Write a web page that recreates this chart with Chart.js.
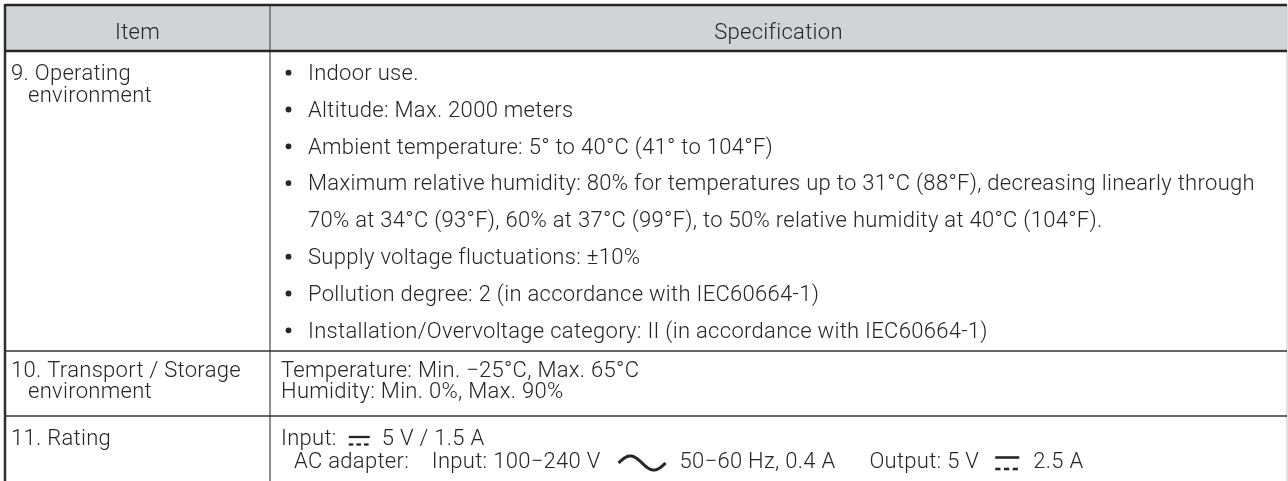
<!DOCTYPE html>
<html>
<head>
<meta charset="utf-8">
<script src="https://cdn.jsdelivr.net/npm/chart.js@4"></script>
<style>
  body { margin: 0; background: #fff; }
  canvas { display: block; }
</style>
</head>
<body>
<canvas id="chart-table" width="1288" height="481"></canvas>
<script>
// --- table contents ---
const headerLabels = ["Item", "Specification"];
const itemNames = [
  ["9. Operating", "environment"],
  ["10. Transport / Storage", "environment"],
  ["11. Rating"],
];
const operatingBullets = [
  ["Indoor use."],
  ["Altitude: Max. 2000 meters"],
  ["Ambient temperature: 5° to 40°C (41° to 104°F)"],
  ["Maximum relative humidity: 80% for temperatures up to 31°C (88°F), decreasing linearly through",
   "70% at 34°C (93°F), 60% at 37°C (99°F), to 50% relative humidity at 40°C (104°F)."],
  ["Supply voltage fluctuations: ±10%"],
  ["Pollution degree: 2 (in accordance with IEC60664-1)"],
  ["Installation/Overvoltage category: II (in accordance with IEC60664-1)"],
];
const storageLines = ["Temperature: Min. −25°C, Max. 65°C", "Humidity: Min. 0%, Max. 90%"];
const ratingLines = [
  "Input: ⎓ 5 V / 1.5 A",
  "AC adapter:    Input: 100−240 V ∿ 50−60 Hz, 0.4 A      Output: 5 V ⎓ 2.5 A",
];

// layout (scale units = pixels)
const tableLeft = 5, tableRight = 1287, colSplit = 270;
const rowEdges = [5, 51, 351, 416, 481];
const FONT = "300 22px Roboto, 'Liberation Sans', sans-serif";
const INK = "#262626";

// symbol shapes: width, gap before/after, line offsets from baseline
const SYMBOLS = {
  dcSmall: { w: 21, before: 12, after: 12, top: 8, bottom: 0.5, lw: 2.3 },
  dcLarge: { w: 24, before: 16, after: 14, top: 10.5, bottom: -1, lw: 2.6 },
  ac: { w: 47, before: 18, after: 14 },
};

const tablePlugin = {
  id: "specTable",
  afterDraw(chart) {
    const ctx = chart.ctx;
    const X = (v) => chart.scales.x.getPixelForValue(v);
    const Y = (v) => chart.scales.y.getPixelForValue(v);

    const hline = (y, x0, x1, color, w) => {
      ctx.strokeStyle = color; ctx.lineWidth = w;
      ctx.beginPath(); ctx.moveTo(X(x0), Y(y)); ctx.lineTo(X(x1), Y(y)); ctx.stroke();
    };
    const vline = (x, y0, y1, color, w) => {
      ctx.strokeStyle = color; ctx.lineWidth = w;
      ctx.beginPath(); ctx.moveTo(X(x), Y(y0)); ctx.lineTo(X(x), Y(y1)); ctx.stroke();
    };

    ctx.save();
    // header band
    ctx.fillStyle = "#d2d3d5";
    ctx.fillRect(X(tableLeft), Y(rowEdges[0]), X(tableRight) - X(tableLeft), Y(rowEdges[1]) - Y(rowEdges[0]));

    // grid
    vline(tableRight, rowEdges[0], 481, "#c4c4c4", 1);
    vline(colSplit, rowEdges[0], 481, "#6a6a6a", 1.5);
    vline(tableLeft, rowEdges[0] - 1, 481, "#2e2e2e", 2.5);
    hline(rowEdges[0], tableLeft, tableRight, "#262626", 2.5);
    hline(rowEdges[1], tableLeft, tableRight, "#262626", 2.5);
    hline(rowEdges[2], tableLeft, tableRight, "#333", 1.5);
    hline(rowEdges[3], tableLeft, tableRight, "#333", 1.5);

    ctx.font = FONT;
    ctx.letterSpacing = "0.3px";
    ctx.fillStyle = INK;
    ctx.textBaseline = "alphabetic";

    // header text
    ctx.textAlign = "center";
    ctx.fillText(headerLabels[0], X((tableLeft + colSplit) / 2), Y(39));
    ctx.fillText(headerLabels[1], X((colSplit + tableRight) / 2), Y(39));
    ctx.textAlign = "left";

    // item column
    const itemTop = [80, 376.7, 445];
    itemNames.forEach((lines, i) => {
      lines.forEach((t, j) => ctx.fillText(t, X(j ? 28 : 11), Y(itemTop[i] + j * 21.6)));
    });

    // bullets for operating environment
    let line = 0;
    operatingBullets.forEach((item) => {
      item.forEach((t, j) => {
        const y = 80 + line * 36.8;
        if (j === 0) {
          ctx.beginPath();
          ctx.arc(X(288.5), Y(y - 7.3), 2.9, 0, Math.PI * 2);
          ctx.fill();
        }
        ctx.fillText(t, X(308), Y(y));
        line++;
      });
    });

    storageLines.forEach((t, j) => ctx.fillText(t, X(281), Y(376.7 + j * 21.5)));

    // rating lines, DC / AC marks drawn as strokes
    const drawSymbol = (s, kind, x, base) => {
      ctx.save();
      ctx.strokeStyle = INK;
      if (kind === "ac") {
        ctx.lineWidth = 3;
        ctx.beginPath();
        for (let k = 0; k <= 48; k++) {
          const t = k / 48;
          const px = x + t * s.w;
          const py = base - 5 - 7 * Math.sin(t * Math.PI * 2);
          if (k === 0) ctx.moveTo(px, py); else ctx.lineTo(px, py);
        }
        ctx.stroke();
      } else {
        ctx.lineWidth = s.lw;
        ctx.beginPath(); ctx.moveTo(x, base - s.top); ctx.lineTo(x + s.w, base - s.top); ctx.stroke();
        const step = s.w / 2.75;
        for (let k = 0; k < 3; k++) {
          ctx.beginPath();
          ctx.moveTo(x + k * step, base - s.bottom);
          ctx.lineTo(x + k * step + step * 0.6, base - s.bottom);
          ctx.stroke();
        }
      }
      ctx.restore();
    };
    const drawRich = (text, x, base, dcKind) => {
      let cx = X(x);
      const by = Y(base);
      for (const part of text.split(/\s*([⎓∿])\s*/)) {
        if (part === "⎓" || part === "∿") {
          const kind = part === "∿" ? "ac" : dcKind;
          const s = SYMBOLS[kind];
          cx += s.before;
          drawSymbol(s, kind, cx, by);
          cx += s.w + s.after;
        } else if (part) {
          ctx.fillText(part, cx, by);
          cx += ctx.measureText(part).width;
        }
      }
    };
    drawRich(ratingLines[0], 281, 445, "dcSmall");
    drawRich(ratingLines[1], 294, 468, "dcLarge");

    ctx.restore();
  },
};

new Chart(document.getElementById("chart-table"), {
  type: "scatter",
  data: { datasets: [] },
  options: {
    responsive: false,
    animation: false,
    devicePixelRatio: 1,
    layout: { padding: 0 },
    plugins: { legend: { display: false }, tooltip: { enabled: false } },
    scales: {
      x: { type: "linear", min: 0, max: 1288, display: false },
      y: { type: "linear", min: 0, max: 481, reverse: true, display: false },
    },
  },
  plugins: [tablePlugin],
});
</script>
</body>
</html>
